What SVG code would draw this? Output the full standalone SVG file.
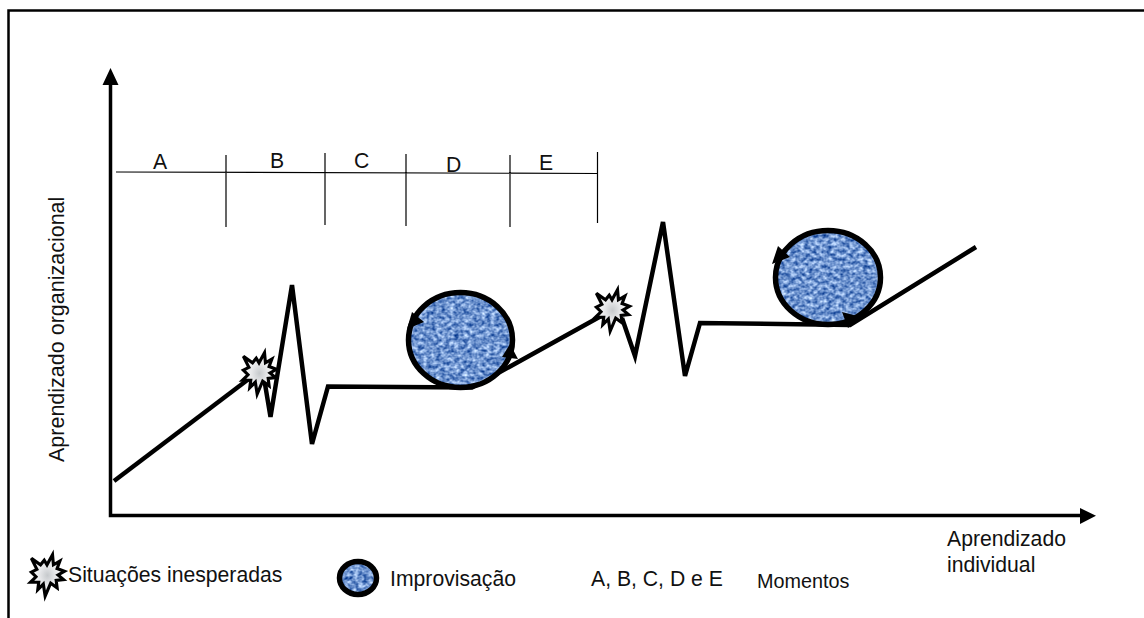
<svg xmlns="http://www.w3.org/2000/svg" width="1144" height="618" viewBox="0 0 1144 618">
<style>
text{font-family:"Liberation Sans",Arial,sans-serif;font-size:21.2px;fill:#111}
.axis{fill:none;stroke:#000;stroke-width:3.5}
.curve{fill:none;stroke:#000;stroke-width:4.5;stroke-linejoin:miter}
.grid{fill:none;stroke:#000;stroke-width:1.2}
.ring{fill:none;stroke:#000;stroke-width:5.500}
.tex{fill:#6f94cc;filter:url(#weave)}
.star{fill:url(#sg);stroke:#000;stroke-width:3.400;stroke-linejoin:miter}
</style>
<defs>
<radialGradient id="sg"><stop offset="0" stop-color="#c6c9cc"/><stop offset=".45" stop-color="#e6e7e9"/><stop offset="1" stop-color="#fff"/></radialGradient>
<filter id="weave" x="0" y="0" width="1" height="1" color-interpolation-filters="sRGB">
<feTurbulence type="fractalNoise" baseFrequency="0.22 0.26" numOctaves="2" seed="11"/>
<feColorMatrix type="matrix" values="1.15 0 0 0 -0.14  1 0 0 0 0.08  0.7 0 0 0 0.46  0 0 0 0 1"/>
<feComposite in2="SourceAlpha" operator="in"/>
</filter>
<polygon id="burst" points="-17,-17 -7,-10 -3,-15 0,-10 6,-21 7,-10 14,-14 11,-6 19,-3 12,1 18,6 10,7 11,15 4,10 -2,24 -4,11 -10,17 -9,9 -18,9 -12,3 -17,-2 -11,-5"/>
</defs>
<rect width="1144" height="618" fill="#fff"/>
<g id="frame"><path class="axis" d="M8.500 618V10.500H1144" style="stroke-width:2.500"/></g>
<g id="connectors">
<path class="axis" d="M110.500 84V515.500H1081"/>
<polygon points="110.500,68 102.500,85 118.500,85"/>
<polygon points="1096,515.700 1080,508 1080,524"/>
<path class="curve" d="M114 481L250 378"/>
<path class="curve" d="M264 378L270.500 417L292 285L312 444L328 386.500L472 387.500L612 310"/>
<path class="curve" d="M622 318L635 356L663 222L685 376L700 323L850 325L976 247"/>
</g>
<g id="grid">
<path class="grid" d="M116 172L598 173.500M226 155V227M325 153V225M406 154V226M510 155V227M597.500 152V223"/>
</g>
<g id="labels-top">
<text x="153" y="169">A</text><text x="270" y="168">B</text><text x="354" y="168">C</text><text x="446" y="172">D</text><text x="539" y="170">E</text>
</g>
<g id="impro1">
<ellipse class="tex" cx="460.500" cy="340" rx="52" ry="47.500"/>
<ellipse class="ring" cx="460.500" cy="340" rx="52" ry="47.500"/>
<polygon points="412,312 424,322 407,329"/>
<polygon points="502,357 518,359 510,344"/>
</g>
<g id="impro2">
<ellipse class="tex" cx="828" cy="277.500" rx="52.500" ry="47"/>
<ellipse class="ring" cx="828" cy="277.500" rx="52.500" ry="47"/>
<polygon points="778,246 790,257 772,264"/>
<polygon points="842,312 861,317 848,328"/>
</g>
<g id="burst1"><use href="#burst" class="star" transform="translate(259 372) scale(.92)"/></g>
<g id="burst2"><use href="#burst" class="star" transform="translate(612 309) scale(.92)"/></g>
<g id="legend-burst"><use href="#burst" class="star" transform="translate(47 574) scale(.92)"/><text x="68" y="582">Situações inesperadas</text></g>
<g id="legend-impro">
<ellipse class="tex" cx="358" cy="578" rx="18.500" ry="16.500"/>
<ellipse cx="358" cy="578" rx="18.500" ry="16.500" fill="none" stroke="#000" stroke-width="5.500"/>
<text x="390" y="586">Improvisação</text>
</g>
<g id="legend-moments"><text x="591" y="586">A, B, C, D e E</text><text x="757" y="588" style="font-size:19.800px">Momentos</text></g>
<g id="axis-labels">
<text x="947" y="546">Aprendizado</text><text x="947" y="572">individual</text>
<text transform="translate(64 462) rotate(-90)" style="font-size:21.500px">Aprendizado organizacional</text>
</g>
</svg>
